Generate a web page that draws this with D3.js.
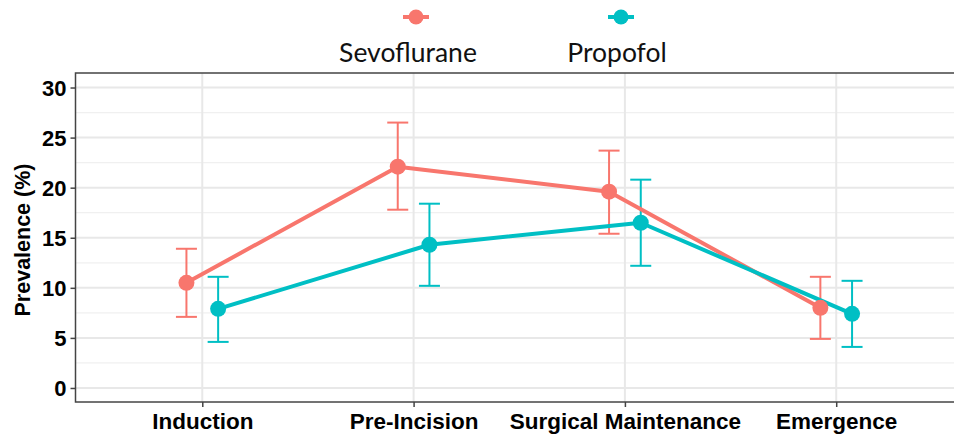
<!DOCTYPE html>
<html>
<head>
<meta charset="utf-8">
<script src="https://cdn.jsdelivr.net/npm/d3@7"></script>
<style>
  html, body { margin: 0; padding: 0; background: #fff; }
  svg { display: block; }
</style>
</head>
<body>
<svg id="chart" width="954" height="436"></svg>
<script>
// Anaesthesia phases and prevalence estimates with 95% confidence limits
const phases = ["Induction", "Pre-Incision", "Surgical Maintenance", "Emergence"];
const groups = ["Sevoflurane", "Propofol"];
const groupColors = ["#F8766D", "#00BFC4"];

const sevoMean  = [10.5, 22.1, 19.6, 8.0];
const sevoLower = [7.1, 17.8, 15.4, 4.9];
const sevoUpper = [13.9, 26.5, 23.7, 11.1];

const propMean  = [7.9, 14.3, 16.5, 7.4];
const propLower = [4.6, 10.2, 12.2, 4.1];
const propUpper = [11.1, 18.4, 20.8, 10.7];

const yTicks = [0, 5, 10, 15, 20, 25, 30];
const yMinor = [2.5, 7.5, 12.5, 17.5, 22.5, 27.5];

const series = [
  { name: groups[0], color: groupColors[0], mean: sevoMean, lo: sevoLower, hi: sevoUpper, dodge: -1 },
  { name: groups[1], color: groupColors[1], mean: propMean, lo: propLower, hi: propUpper, dodge: 1 }
];

const svg = d3.select("#chart");
const panel = { left: 75.5, top: 73, right: 963, bottom: 402 };

const x = d3.scalePoint().domain(phases).range([panel.left, panel.right]).padding(0.6);
const y = d3.scaleLinear().domain([-1.4, 31.45]).range([panel.bottom, panel.top]);
const dodgeW = x.step() * 0.075;
const px = (s, i) => x(phases[i]) + s.dodge * dodgeW;

// panel background grid
const grid = svg.append("g");
grid.selectAll("line.minor").data(yMinor).join("line")
  .attr("x1", panel.left).attr("x2", panel.right)
  .attr("y1", d => y(d)).attr("y2", d => y(d))
  .attr("stroke", "#f0f0f0").attr("stroke-width", 1.2);
grid.selectAll("line.majorY").data(yTicks).join("line")
  .attr("x1", panel.left).attr("x2", panel.right)
  .attr("y1", d => y(d)).attr("y2", d => y(d))
  .attr("stroke", "#e8e8e8").attr("stroke-width", 2);
grid.selectAll("line.majorX").data(phases).join("line")
  .attr("x1", d => x(d)).attr("x2", d => x(d))
  .attr("y1", panel.top).attr("y2", panel.bottom)
  .attr("stroke", "#e8e8e8").attr("stroke-width", 2);

// error bars
const bars = svg.append("g");
series.forEach(s => {
  const g = bars.append("g").attr("stroke", s.color).attr("stroke-width", 2).attr("fill", "none");
  phases.forEach((p, i) => {
    const cx = px(s, i), hw = 10.5;
    g.append("line").attr("x1", cx).attr("x2", cx).attr("y1", y(s.lo[i])).attr("y2", y(s.hi[i]));
    g.append("line").attr("x1", cx - hw).attr("x2", cx + hw).attr("y1", y(s.lo[i])).attr("y2", y(s.lo[i]));
    g.append("line").attr("x1", cx - hw).attr("x2", cx + hw).attr("y1", y(s.hi[i])).attr("y2", y(s.hi[i]));
  });
});

// connecting lines
const line = d3.line();
series.forEach(s => {
  svg.append("path")
    .attr("d", line(phases.map((p, i) => [px(s, i), y(s.mean[i])])))
    .attr("fill", "none").attr("stroke", s.color).attr("stroke-width", 4)
    .attr("stroke-linejoin", "round");
});

// points
series.forEach(s => {
  svg.append("g").selectAll("circle").data(s.mean).join("circle")
    .attr("cx", (d, i) => px(s, i)).attr("cy", d => y(d)).attr("r", 8)
    .attr("fill", s.color);
});

// panel border
svg.append("rect")
  .attr("x", panel.left).attr("y", panel.top)
  .attr("width", panel.right - panel.left).attr("height", panel.bottom - panel.top)
  .attr("fill", "none").attr("stroke", "#444").attr("stroke-width", 1.5);

// axes
const yAxis = svg.append("g").attr("transform", `translate(${panel.left},0)`)
  .call(d3.axisLeft(y).tickValues(yTicks).tickSize(5).tickPadding(4));
const xAxis = svg.append("g").attr("transform", `translate(0,${panel.bottom})`)
  .call(d3.axisBottom(x).tickSize(5).tickPadding(5));
[yAxis, xAxis].forEach(a => {
  a.select(".domain").remove();
  a.selectAll(".tick line").attr("stroke", "#444").attr("stroke-width", 1.5);
  a.selectAll(".tick text")
    .attr("fill", "#000")
    .style("font-family", "'Liberation Sans', Arial, sans-serif")
    .style("font-weight", "bold");
});
yAxis.selectAll(".tick text").style("font-size", "22px").attr("dy", "0.36em");
xAxis.selectAll(".tick text").style("font-size", "22.5px").attr("dy", "0.74em");

// y axis title
svg.append("text")
  .attr("transform", `translate(30,240) rotate(-90)`)
  .attr("text-anchor", "middle")
  .style("font-family", "'Liberation Sans', Arial, sans-serif")
  .style("font-weight", "bold").style("font-size", "21.5px")
  .text("Prevalence (%)");

// legend
const legendX = [416, 621];
const legend = svg.append("g");
series.forEach((s, k) => {
  const cx = legendX[k];
  legend.append("line").attr("x1", cx - 13).attr("x2", cx + 13).attr("y1", 17).attr("y2", 17)
    .attr("stroke", s.color).attr("stroke-width", 4);
  legend.append("circle").attr("cx", cx).attr("cy", 17).attr("r", 7.5).attr("fill", s.color);
  legend.append("text").attr("x", cx - 8 + k * 4).attr("y", 62)
    .attr("text-anchor", "middle")
    .style("font-family", "Lato, 'Open Sans', sans-serif")
    .style("font-size", "26.5px").attr("fill", "#111")
    .text(s.name);
});
</script>
</body>
</html>
